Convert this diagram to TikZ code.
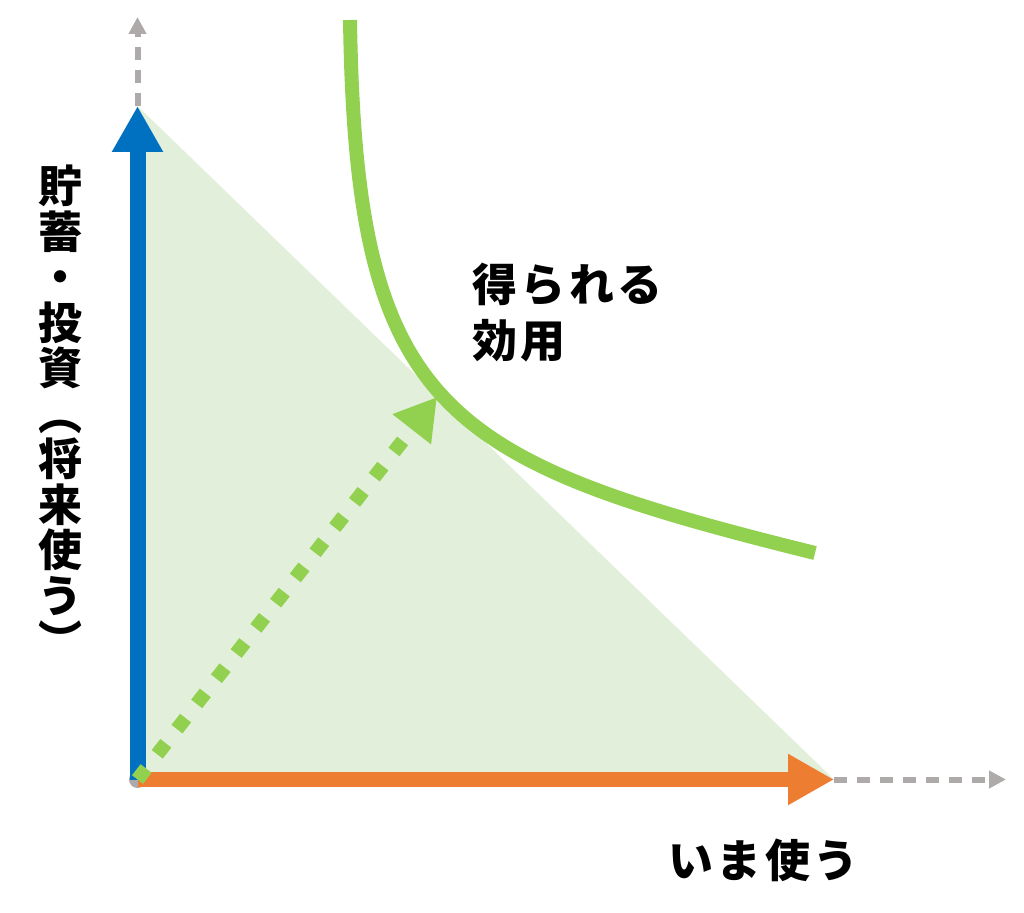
\documentclass[tikz,border=0pt]{standalone}
\usepackage{fontspec}
\newfontfamily\jp{Noto Sans CJK JP}
\newfontfamily\jpsp{Noto Sans CJK JP}[LetterSpace=8]
\usetikzlibrary{arrows.meta}
\definecolor{cblue}{HTML}{0070C0}
\definecolor{corange}{HTML}{ED7D31}
\definecolor{cgreen}{HTML}{92D050}
\definecolor{cfill}{HTML}{E2EFDA}
\definecolor{cgray}{HTML}{AEAAAA}
\tikzset{
  axisgray/.style={cgray, line width=6pt, dash pattern=on 13pt off 10pt, -{Triangle[length=17pt,width=17pt]}},
  bigarrow/.style={line width=16pt, -{Triangle[length=46pt,width=48pt]}},
  utilcurve/.style={cgreen, line width=14pt},
  dotarrow/.style={cgreen, line width=14pt, dash pattern=on 14pt off 18pt, -{Triangle[length=41pt,width=46pt]}},
  lbl/.style={font=\jpsp\bfseries\fontsize{45}{56}\selectfont, inner sep=0pt},
}
\begin{document}
\begin{tikzpicture}[x=1pt,y=-1pt]
\useasboundingbox (0,0) rectangle (1024,912);
\coordinate (O) at (137.5,779.5);
\coordinate (Ytip) at (137.5,106);
\coordinate (Yend) at (137.5,17);
\coordinate (Xtip) at (834,779.5);
\coordinate (Xend) at (1006,779.5);
\coordinate (Utip) at (437,397);
\coordinate (Cs) at (350,20);
\coordinate (Ce) at (815,553);
% shaded budget triangle
\fill[cfill] (O) -- (Ytip) -- (Xtip) -- cycle;
% gray extension axes
\draw[axisgray] (Ytip) -- (Yend);
\draw[axisgray] (Xtip) -- (Xend);
\fill[cgray] (O) circle (8.5);
% blue and orange arrows
\draw[bigarrow, cblue] (O) -- (Ytip);
\draw[bigarrow, corange, line width=15pt] (O) -- (Xtip);
% indifference curve
\draw[utilcurve] (Cs) .. controls (356,410) and (440,460) .. (Ce);
% dotted arrow
\draw[dotarrow] (O) -- (Utip);
% labels
\node[lbl, anchor=base west] (u1) at (472,301) {得られる};
\node[lbl, anchor=base west] (u2) at (472,357) {効用};
\node[lbl, anchor=base west] (xl) at (668,877) {いま使う};
\node[lbl, anchor=north, align=center, font=\jp\bfseries\fontsize{44}{45.5}\selectfont] (yl) at (60,165)
  {貯\\蓄\\・\\投\\資\\︵\\将\\来\\使\\う\\︶};
\end{tikzpicture}
\end{document}
